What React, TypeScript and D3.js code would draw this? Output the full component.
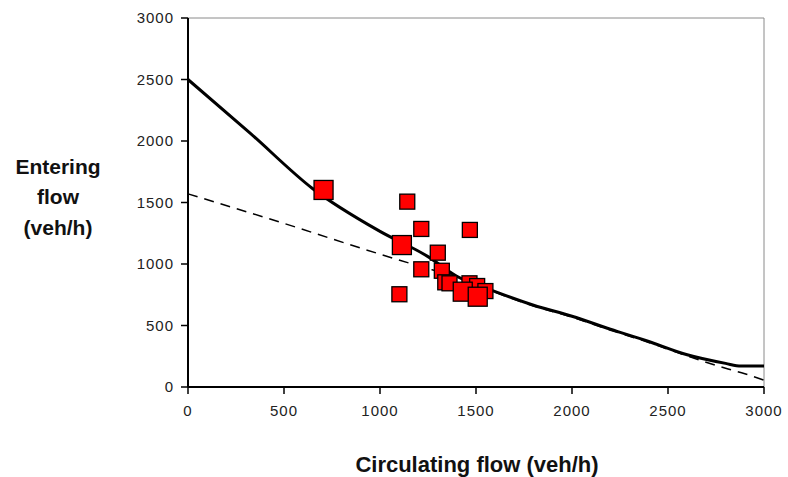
import React from 'react';
import * as d3 from 'd3';

// solid model curve (circulating flow, entering flow)
const solidCurve: [number, number][] = [
  [0, 2500], [325, 2062], [650, 1612], [1000, 1265], [1250, 1060], [1400, 900],
  [1600, 775], [1800, 665], [2000, 575], [2200, 470], [2400, 370], [2600, 262],
  [2800, 192], [2880, 170], [3000, 170],
];

// dashed model curve
const dashedCurve: [number, number][] = [
  [0, 1570], [500, 1330], [1000, 1080], [1200, 985], [1400, 892], [1600, 770],
  [1800, 658], [2000, 568], [2200, 462], [2400, 362], [2600, 252], [2800, 152],
  [2900, 108], [3000, 55],
];

// observed points: circulating, entering, big marker?
const obsCirc = [706, 1142, 1215, 1468, 1114, 1301, 1215, 1322, 1101, 1340, 1362, 1466, 1506, 1431, 1549, 1509];
const obsEnter = [1602, 1507, 1285, 1277, 1154, 1092, 957, 945, 754, 851, 843, 843, 821, 775, 780, 734];
const obsBig = [1, 0, 0, 0, 1, 0, 0, 0, 0, 0, 0, 0, 0, 1, 0, 1];

const xTicks = [0, 500, 1000, 1500, 2000, 2500, 3000];
const yTicks = [0, 500, 1000, 1500, 2000, 2500, 3000];

const W = 788;
const H = 477;
const left = 188;
const right = 764;
const top = 18;
const bottom = 387;

export default function App() {
  const x = d3.scaleLinear().domain([0, 3000]).range([left, right]);
  const y = d3.scaleLinear().domain([0, 3000]).range([bottom, top]);

  const line = d3
    .line<[number, number]>()
    .x((d) => x(d[0]))
    .y((d) => y(d[1]))
    .curve(d3.curveMonotoneX);

  const font = 'Arial, "Liberation Sans", sans-serif';

  return (
    <div style={{ position: 'absolute', left: 0, top: 0 }}>
      <style>{'body{margin:0}'}</style>
      <svg width={W} height={H} style={{ display: 'block', background: '#fff' }}>
        {/* plot frame: top and right in gray */}
        <line x1={left} x2={right} y1={top} y2={top} stroke="#8a8a8a" strokeWidth={1} />
        <line x1={right} x2={right} y1={top} y2={bottom} stroke="#8a8a8a" strokeWidth={1} />

        {/* curves */}
        <path d={line(dashedCurve) || ''} fill="none" stroke="#000" strokeWidth={1.5} strokeDasharray="10,7" />
        <path d={line(solidCurve) || ''} fill="none" stroke="#000" strokeWidth={3} />

        {/* observed points */}
        {obsCirc.map((c, i) => {
          const s = obsBig[i] ? 19 : 15;
          return (
            <rect
              key={i}
              x={x(c) - s / 2}
              y={y(obsEnter[i]) - s / 2}
              width={s}
              height={s}
              fill="#ff0000"
              stroke="#000"
              strokeWidth={1.3}
            />
          );
        })}

        {/* axes */}
        <line x1={left} x2={left} y1={top} y2={bottom} stroke="#000" strokeWidth={2} />
        <line x1={left} x2={right} y1={bottom} y2={bottom} stroke="#000" strokeWidth={2} />

        {yTicks.map((t) => (
          <g key={'y' + t}>
            <line x1={left - 7} x2={left} y1={y(t)} y2={y(t)} stroke="#000" strokeWidth={1.5} />
            <text
              x={left - 14}
              y={y(t)}
              dy="0.35em"
              textAnchor="end"
              fontFamily={font}
              fontSize={15}
              letterSpacing={1}
              fill="#222"
            >
              {t}
            </text>
          </g>
        ))}

        {xTicks.map((t) => (
          <g key={'x' + t}>
            <line x1={x(t)} x2={x(t)} y1={bottom} y2={bottom + 7} stroke="#000" strokeWidth={1.5} />
            <text
              x={x(t)}
              y={411}
              dy="0.35em"
              textAnchor="middle"
              fontFamily={font}
              fontSize={15}
              letterSpacing={1}
              fill="#222"
            >
              {t}
            </text>
          </g>
        ))}

        {/* axis titles */}
        <text x={477} y={464} dy="0.35em" textAnchor="middle" fontFamily={font} fontSize={22} fontWeight="bold" fill="#111">
          Circulating flow (veh/h)
        </text>
        <text textAnchor="middle" fontFamily={font} fontSize={21} fontWeight="bold" fill="#111">
          <tspan x={58} y={167} dy="0.35em">Entering</tspan>
          <tspan x={58} y={197} dy="0.35em">flow</tspan>
          <tspan x={58} y={228} dy="0.35em">(veh/h)</tspan>
        </text>
      </svg>
    </div>
  );
}
